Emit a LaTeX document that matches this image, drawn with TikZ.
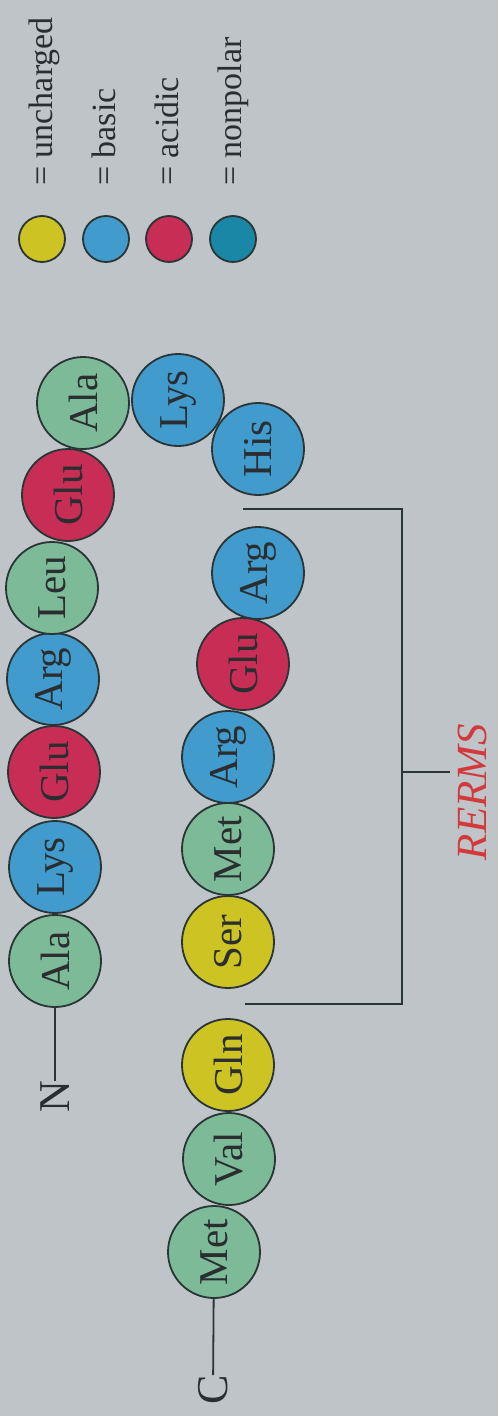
\documentclass[tikz,border=0pt]{standalone}
\usepackage{fontspec}
\setmainfont{Liberation Serif}
\definecolor{bg}{HTML}{BEC4C7}
\definecolor{cgreen}{HTML}{7DBB98}
\definecolor{cblue}{HTML}{419BCD}
\definecolor{cred}{HTML}{C82D55}
\definecolor{cyellow}{HTML}{CDC323}
\definecolor{cteal}{HTML}{1987A5}
\definecolor{outl}{HTML}{2A3535}
\definecolor{lbl}{HTML}{2A2E30}
\definecolor{rerms}{HTML}{D2383C}
\begin{document}
\begin{tikzpicture}[x=1pt,y=-1pt,
  aa/.style={circle, draw=outl, line width=1.8pt, minimum size=92pt, inner sep=0pt,
    rotate=90, text=lbl, font=\fontsize{41}{45}\selectfont},
  leg/.style={circle, draw=outl, line width=1.8pt, minimum size=46pt, inner sep=0pt},
  legtxt/.style={rotate=90, anchor=base west, inner sep=0pt, text=lbl, font=\fontsize{34}{38}\selectfont},
  term/.style={rotate=90, inner sep=0pt, text=lbl, font=\fontsize{44}{48}\selectfont},
  bond/.style={draw=outl, line width=1.8pt},
  brk/.style={draw=outl, line width=2pt}]
\fill[bg] (0,0) rectangle (498,1416);
\useasboundingbox (0,0) rectangle (498,1416);
% legend
\node[leg, fill=cyellow] (l1) at (42,239) {};
\node[leg, fill=cblue] (l2) at (106,239) {};
\node[leg, fill=cred] (l3) at (169,239) {};
\node[leg, fill=cteal] (l4) at (233,239) {};
\node[legtxt] (t1) at (52,186) {= uncharged};
\node[legtxt] (t2) at (115,186) {= basic};
\node[legtxt] (t3) at (178,186) {= acidic};
\node[legtxt] (t4) at (241,186) {= nonpolar};
% strand 1
\node[term] (N) at (55,1097) {N};
\node[aa, fill=cgreen] (a1) at (55,961) {Ala};
\node[aa, fill=cblue] (a2) at (55,867) {Lys};
\node[aa, fill=cred] (a3) at (54,772) {Glu};
\node[aa, fill=cblue] (a4) at (53,679) {Arg};
\node[aa, fill=cgreen] (a5) at (52,588) {Leu};
\node[aa, fill=cred] (a6) at (68,495) {Glu};
\node[aa, fill=cgreen] (a7) at (83,403) {Ala};
\node[aa, fill=cblue] (a8) at (178,400) {Lys};
\node[aa, fill=cblue] (a9) at (258,449) {His};
% strand 2
\node[aa, fill=cblue] (b1) at (258,573) {Arg};
\node[aa, fill=cred] (b2) at (243,664) {Glu};
\node[aa, fill=cblue] (b3) at (228,757) {Arg};
\node[aa, fill=cgreen] (b4) at (228,849) {Met};
\node[aa, fill=cyellow] (b5) at (228,942) {Ser};
\node[aa, fill=cyellow] (b6) at (228,1065) {Gln};
\node[aa, fill=cgreen] (b7) at (229,1159) {Val};
\node[aa, fill=cgreen] (b8) at (214,1252) {Met};
\node[term] (C) at (213,1390) {C};
\draw[bond] (a1) -- (N);
\draw[bond] (b8) -- (C);
% bracket
\coordinate (k1) at (243,509);
\coordinate (k2) at (402,509);
\coordinate (k3) at (402,1004);
\coordinate (k4) at (245,1004);
\coordinate (km) at (402,772);
\coordinate (kt) at (450,772);
\draw[brk] (k1) -- (k2) -- (k3) -- (k4);
\draw[brk] (km) -- (kt);
\node[rotate=90, anchor=base, inner sep=0pt, text=rerms, font=\fontsize{43}{48}\selectfont\itshape] (R) at (486,792) {RERMS};
\end{tikzpicture}
\end{document}
